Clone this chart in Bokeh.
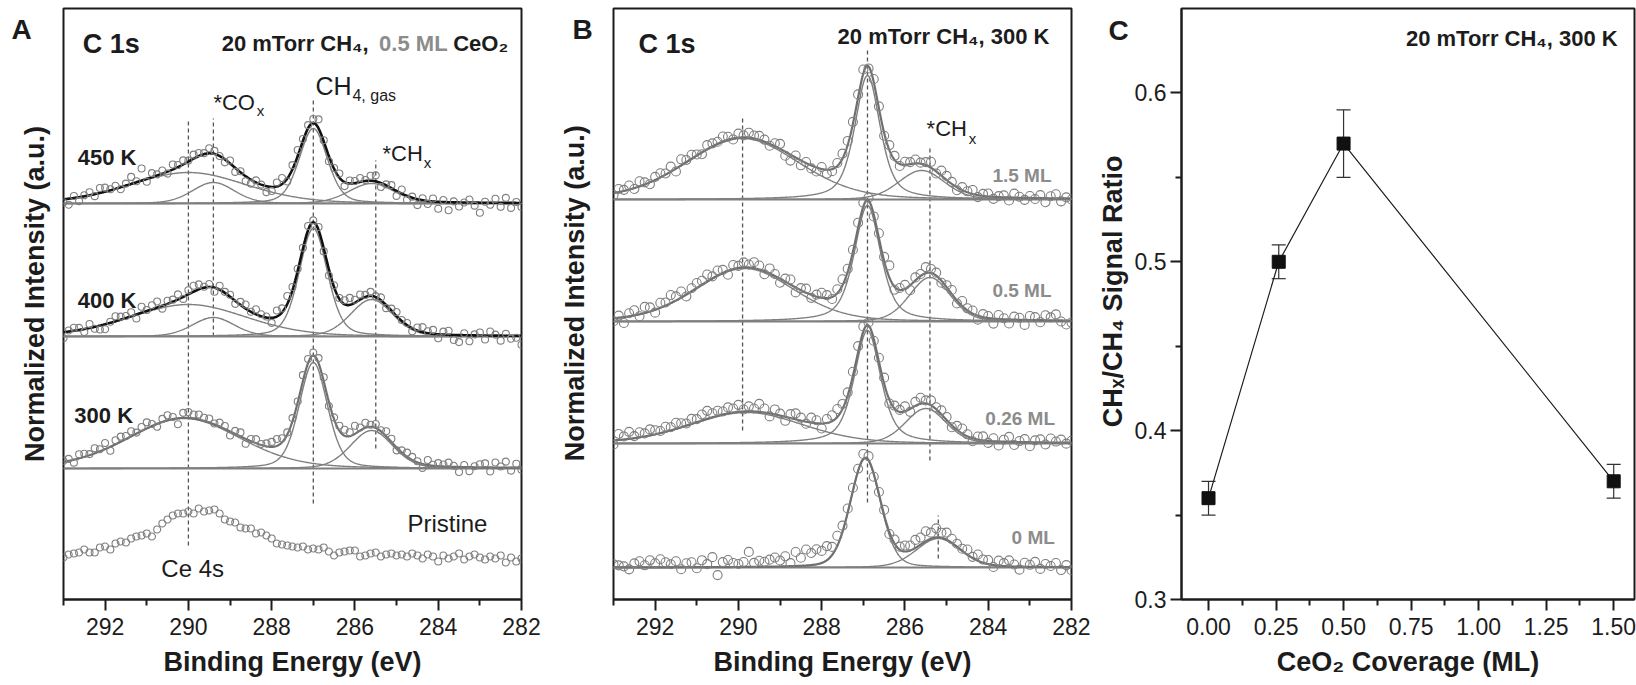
import numpy as np
from bokeh.plotting import figure
from bokeh.models import (Label, Range1d, FixedTicker, NumeralTickFormatter,
                          ColumnDataSource, Whisker, TeeHead)
from bokeh.layouts import row
from bokeh.embed import file_html
from bokeh.resources import INLINE

FONT = "Liberation Sans"
NARROW = "Liberation Sans Narrow, Liberation Sans"
INK = "#1c1c1c"
GREY = "#7f7f7f"
LABEL_GREY = "#8c8c8c"

# ---------------- DATA ----------------
# binding-energy sampling grid of the spectra (eV), 0.125 eV steps, 293 -> 282
energy = np.round(293.0 - 0.125 * np.arange(89), 3)

# Panel A: fitted components (centre eV, height, FWHM eV, lorentz fraction)
peaks_450K = [(290.0, 31, 3.3, 0.2), (289.4, 21, 1.2, 0.2), (287.0, 75, 0.8, 0.3), (285.6, 20, 1.3, 0.2)]
peaks_400K = [(290.0, 32, 3.3, 0.2), (289.4, 19, 1.2, 0.2), (287.0, 108, 0.8, 0.3), (285.6, 37, 1.2, 0.2)]
peaks_300K = [(290.1, 50, 3.2, 0.2), (287.0, 106, 0.8, 0.3), (285.6, 38, 1.2, 0.2)]
offset_A = {"450 K": 396, "400 K": 263, "300 K": 131}

# scatter of measured points around the fit
resid_450K = [
    -3, -6, 2, -4, 1, 3, -2, 5,
    4, 1, 3, -2, 2, 7, 1, 12,
    -3, 4, 1, 3, -2, 5, 2, 4,
    1, 4, 3, 1, 5, 3, 0, -3,
    3, -4, 1, -5, -4, 2, 0, -6,
    -4, 4, 6, -3, 4, 6, 2, 3,
    4, 9, 1, -5, 1, 4, -4, 3,
    2, 4, 1, 5, 6, -4, 1, 3,
    -5, 4, -4, 1, -6, 2, -3, 3,
    -7, 2, -8, 1, -4, 0, 3, -3,
    -10, 1, -2, 4, -4, 5, -5, 1,
    -4]
resid_400K = [
    -6, 1, 3, 2, -3, 4, -2, -4,
    -5, 1, 5, 3, 2, 4, -4, 6,
    1, 4, 6, -3, 3, 2, 5, -2,
    4, 6, 5, 1, 3, -4, 4, 1,
    2, -3, 3, 4, 0, 5, 2, 1,
    -5, 6, 4, 8, 3, 2, 1, 4,
    2, 3, -3, -6, 2, 1, 4, 7,
    3, 5, 2, 4, 1, 3, -3, 2,
    4, 1, 2, -3, 3, 5, 2, 4,
    -4, 3, 4, -5, -7, 2, -6, 1,
    3, -4, 4, 1, -5, 2, -3, -2,
    -9]
resid_300K = [
    1, 2, -3, 4, 3, 1, 5, 2,
    6, -4, 4, 5, 3, 5, 1, 4,
    6, 2, -3, 3, 5, 2, -6, 5,
    6, 4, 5, 3, 4, 1, 4, 3,
    -4, 3, 4, -5, 2, 4, 1, 3,
    5, 7, 4, 2, 3, 1, 6, 4,
    3, 5, 4, -4, 2, 5, 6, 4,
    8, 3, 5, 2, 4, 1, 5, 3,
    -3, 2, 4, 3, 1, -4, 5, 1,
    3, 2, 4, 1, -5, 2, -4, 1,
    3, 4, -4, 5, 1, 6, -3, 4,
    -2]
pristine = [
    42, 45, 46, 47, 50, 47, 47, 52,
    53, 50, 56, 58, 57, 61, 63, 64,
    66, 63, 70, 76, 80, 84, 86, 86,
    88, 86, 91, 88, 89, 90, 86, 80,
    78, 77, 72, 71, 71, 66, 67, 64,
    61, 56, 55, 54, 53, 52, 53, 50,
    51, 50, 52, 48, 44, 47, 48, 49,
    49, 43, 44, 46, 47, 43, 45, 46,
    44, 45, 43, 46, 44, 41, 45, 43,
    38, 44, 41, 43, 46, 40, 43, 45,
    42, 40, 43, 41, 44, 37, 42, 38,
    41]
# reference (dashed) lines of panel A: energy, lower end, upper end
refA_energy = [290.0, 289.4, 287.0, 285.5]
refA_low = [54, 263, 96, 151]
refA_high = [481, 481, 499, 439]

# Panel B
peaks_15ML = [(289.9, 61, 3.2, 0.2), (286.9, 124, 0.72, 0.55), (285.6, 29, 1.3, 0.2)]
peaks_05ML = [(289.85, 53, 2.8, 0.2), (286.9, 116, 0.75, 0.55), (285.4, 44, 1.15, 0.2)]
peaks_026ML = [(289.8, 31, 3.2, 0.2), (286.9, 113, 0.75, 0.55), (285.5, 35, 1.15, 0.2)]
peaks_0ML = [(286.95, 109, 0.85, 0.2), (285.2, 29, 1.25, 0.2)]
offset_B = {"1.5 ML": 400, "0.5 ML": 278, "0.26 ML": 156, "0 ML": 32}
resid_15ML = [
    -2, 3, 1, 4, -1, 5, 2, -2,
    3, 4, 1, 5, -3, 6, 2, 4,
    1, -2, 4, 3, 2, 5, 3, -1,
    4, 2, 5, 3, 4, 2, -2, 3,
    5, -4, -6, 2, -5, 1, -3, -4,
    2, -4, -2, 3, 5, 4, 2, 3,
    4, -2, 3, 2, -3, 5, 4, -2,
    3, 2, 4, 1, 3, 6, -2, 5,
    4, 2, -3, 3, 1, 4, -2, 2,
    3, -2, 1, 2, -3, 4, 1, -2,
    2, -1, 3, -4, 2, 4, -3, 1,
    -1]
resid_05ML = [
    -3, 2, -6, 3, 5, -2, 6, 4,
    -3, 5, 3, 8, 4, 6, -2, 3,
    5, 4, 7, 2, 5, 3, -4, 4,
    2, 5, 3, 6, 4, -3, 5, 2,
    -4, 3, 5, -5, 2, 4, -3, 2,
    5, 3, -2, 4, 6, 3, 2, 5,
    4, 3, -2, 5, 4, 12, -3, 2,
    4, -5, 3, 2, 6, 4, 3, -2,
    2, 4, -3, 5, 2, 3, -4, 3,
    2, -5, 4, 1, -4, 3, 2, -5,
    4, 3, -2, 5, 3, 6, -1, -4,
    -2]
resid_026ML = [
    -4, 6, 3, 7, 2, 5, 3, 6,
    4, 2, 5, 3, 6, 4, 2, 5,
    3, 6, 8, 4, 5, 3, 6, 4,
    7, 2, 5, 3, 8, 4, -3, 5,
    2, -4, 4, 6, 3, -2, 5, 3,
    -5, 4, 6, 8, 5, 3, 4, 6,
    5, 3, -2, 4, 6, -4, 3, 2,
    5, -3, 4, 6, 3, 5, 2, 4,
    3, -2, 4, 5, 2, -3, 3, 4,
    -2, 3, -4, 2, 5, -3, 1, 3,
    -4, 2, 3, -2, 4, 1, 3, -1,
    2]
resid_0ML = [
    3, 2, 1, -2, 4, 6, 2, 7,
    4, 8, 5, 3, 6, -2, 4, 5,
    -1, 7, 3, 10, -8, 5, 7, 4,
    3, 5, 15, 4, 6, 5, 7, 9,
    6, 10, 3, 14, 8, 16, 12, 15,
    12, 14, 8, 10, 6, 4, 3, 2,
    5, 4, -3, 2, 5, -2, 4, 3,
    6, 5, 8, 7, 10, 6, 9, 5,
    7, 4, 3, 2, 5, 1, 6, 3,
    4, -2, 5, 3, 6, 2, -3, 4,
    2, 5, -2, 3, 1, 4, -3, 2,
    -3]
refB_energy = [289.9, 286.9, 285.4, 285.2]
refB_low = [169, 97, 139, 41]
refB_high = [482, 549, 454, 84]

# Panel C
coverage = [0.0, 0.26, 0.5, 1.5]
ratio = [0.36, 0.50, 0.57, 0.37]
ratio_err = [0.01, 0.01, 0.02, 0.01]

energy_ticks = [292, 290, 288, 286, 284, 282]
energy_minor = [293, 291, 289, 287, 285, 283]
cov_ticks = [0.0, 0.25, 0.5, 0.75, 1.0, 1.25, 1.5]
cov_minor = [0.125, 0.375, 0.625, 0.875, 1.125, 1.375]
ratio_ticks = [0.3, 0.4, 0.5, 0.6]
ratio_minor = [0.35, 0.45, 0.55]


# ---------------- helpers ----------------
def pvoigt(x, c, h, w, eta):
    d = (np.asarray(x) - c) / w
    g = np.exp(-4 * np.log(2) * d ** 2)
    lo = 1.0 / (1.0 + 4 * d ** 2)
    return h * ((1 - eta) * g + eta * lo)


fine = np.linspace(293.0, 282.0, 661)


def make_fig(width, bl, br, xr, yr):
    p = figure(width=width, height=685, x_range=xr, y_range=yr, title=None,
               output_backend="svg", toolbar_location=None,
               min_border_left=bl, min_border_right=br,
               min_border_top=8, min_border_bottom=86)
    p.grid.visible = False
    p.outline_line_color = INK
    p.outline_line_width = 2
    p.outline_line_alpha = 1
    p.background_fill_color = "white"
    p.border_fill_color = "white"
    return p


def side_fig(width):
    # narrow strip holding the panel letter and the rotated axis title
    p = figure(width=width, height=685, x_range=Range1d(0, width), y_range=Range1d(0, 685),
               title=None, output_backend="svg", toolbar_location=None, min_border=0)
    p.axis.visible = False
    p.grid.visible = False
    p.outline_line_color = None
    p.background_fill_color = "white"
    p.border_fill_color = "white"
    return p


def style_axis(ax, ticks, minor, label=None):
    ax.ticker = FixedTicker(ticks=ticks, minor_ticks=minor)
    ax.axis_label = label
    ax.axis_label_text_font = FONT
    ax.axis_label_text_font_size = "27px"
    ax.axis_label_text_font_style = "bold"
    ax.axis_label_text_color = INK
    ax.axis_label_standoff = 9
    ax.major_label_text_font = FONT
    ax.major_label_text_font_size = "23px"
    ax.major_label_text_color = INK
    ax.major_label_standoff = 7
    ax.major_tick_out = 11
    ax.major_tick_in = 0
    ax.minor_tick_out = 6
    ax.minor_tick_in = 0
    ax.major_tick_line_width = 2
    ax.minor_tick_line_width = 2
    ax.major_tick_line_color = INK
    ax.minor_tick_line_color = INK
    ax.axis_line_width = 2
    ax.axis_line_color = INK


def label(p, x, y, text, size, bold=False, color=INK, align="left",
          baseline="middle", angle=0.0, font=FONT):
    p.add_layout(Label(x=x, y=y, text=text, text_font=font,
                       text_font_size=f"{size}px",
                       text_font_style="bold" if bold else "normal",
                       text_color=color, text_align=align,
                       text_baseline=baseline, angle=angle))


def spectrum(p, offset, peaks, resid, sum_color, sum_width, pt_size):
    p.line([energy[0], energy[-1]], [offset, offset], line_color=GREY, line_width=2)
    total = np.zeros_like(fine)
    at_pts = np.zeros(len(energy))
    for c, h, w, eta in peaks:
        comp = pvoigt(fine, c, h, w, eta)
        total += comp
        at_pts += pvoigt(energy, c, h, w, eta)
        p.line(fine, offset + comp, line_color=GREY, line_width=1.4)
    p.line(fine, offset + total, line_color=sum_color, line_width=sum_width)
    n = min(len(energy), len(resid))
    p.scatter(energy[:n], offset + at_pts[:n] + np.array(resid[:n], dtype=float),
              marker="circle", size=pt_size, fill_color=None,
              line_color=GREY, line_width=1.1)


# ---------------- Panel A ----------------
sA = side_fig(61)
label(sA, 21, 661, "A", 28, bold=True, align="center", font=NARROW)
label(sA, 34, 354, "Normalized Intensity (a.u.)", 27, bold=True,
      align="center", angle=np.pi / 2)

pA = make_fig(484, 2, 24, Range1d(293, 282), Range1d(0, 591))
style_axis(pA.xaxis[0], energy_ticks, energy_minor, "Binding Energy (eV)")
pA.yaxis.visible = False

pA.segment(x0=refA_energy, y0=refA_low, x1=refA_energy, y1=refA_high,
           line_color="#555555", line_width=1.3, line_dash="4 3")
spectrum(pA, offset_A["450 K"], peaks_450K, resid_450K, "#111111", 2.6, 7)
spectrum(pA, offset_A["400 K"], peaks_400K, resid_400K, "#111111", 2.6, 7)
spectrum(pA, offset_A["300 K"], peaks_300K, resid_300K, "#6f6f6f", 2.2, 7)
pA.scatter(energy[:len(pristine)], pristine[:len(energy)], marker="circle", size=7,
           fill_color=None, line_color=GREY, line_width=1.1)

label(pA, 292.54, 556, "C 1s", 27, bold=True)
label(pA, 289.20, 556, "20 mTorr CH\u2084,", 22, bold=True)
label(pA, 285.42, 556, "0.5 ML", 22, bold=True, color=LABEL_GREY)
label(pA, 283.64, 556, "CeO\u2082", 22, bold=True)
label(pA, 289.40, 497, "*CO", 22)
label(pA, 288.36, 489, "x", 15)
label(pA, 286.95, 514, "CH", 25)
label(pA, 286.06, 504, "4, gas", 16)
label(pA, 285.34, 446, "*CH", 22)
label(pA, 284.35, 437, "x", 15)
label(pA, 292.66, 442, "450 K", 22, bold=True)
label(pA, 292.66, 299, "400 K", 22, bold=True)
label(pA, 292.74, 184, "300 K", 22, bold=True)
label(pA, 284.74, 76, "Pristine", 24)
label(pA, 290.65, 31, "Ce 4s", 24)

# ---------------- Panel B ----------------
sB = side_fig(66)
label(sB, 37, 661, "B", 28, bold=True, align="center", font=NARROW)
label(sB, 29, 355, "Normalized Intensity (a.u.)", 27, bold=True,
      align="center", angle=np.pi / 2)

pB = make_fig(479, 2, 19, Range1d(293, 282), Range1d(0, 591))
style_axis(pB.xaxis[0], energy_ticks, energy_minor, "Binding Energy (eV)")
pB.yaxis.visible = False

pB.segment(x0=refB_energy, y0=refB_low, x1=refB_energy, y1=refB_high,
           line_color="#555555", line_width=1.3, line_dash="4 3")
spectrum(pB, offset_B["1.5 ML"], peaks_15ML, resid_15ML, "#6f6f6f", 2.2, 9)
spectrum(pB, offset_B["0.5 ML"], peaks_05ML, resid_05ML, "#6f6f6f", 2.2, 9)
spectrum(pB, offset_B["0.26 ML"], peaks_026ML, resid_026ML, "#6f6f6f", 2.2, 9)
spectrum(pB, offset_B["0 ML"], peaks_0ML, resid_0ML, "#6f6f6f", 2.2, 9)

label(pB, 292.40, 556, "C 1s", 27, bold=True)
label(pB, 282.53, 563, "20 mTorr CH\u2084, 300 K", 22, bold=True, align="right")
label(pB, 285.48, 471, "*CH", 22)
label(pB, 284.47, 461, "x", 15)
label(pB, 283.90, 424, "1.5 ML", 19, bold=True, color=LABEL_GREY)
label(pB, 283.90, 309, "0.5 ML", 19, bold=True, color=LABEL_GREY)
label(pB, 284.07, 181, "0.26 ML", 19, bold=True, color=LABEL_GREY)
label(pB, 283.44, 62, "0 ML", 19, bold=True, color=LABEL_GREY)

# ---------------- Panel C ----------------
sC = side_fig(41)
label(sC, 28, 660, "C", 28, bold=True, align="center", font=NARROW)
label(sC, 22, 357, "CH\u2093/CH\u2084 Signal Ratio", 27, bold=True,
      align="center", angle=np.pi / 2)

pC = make_fig(505, 47, 2, Range1d(-0.1, 1.577), Range1d(0.3, 0.65))
style_axis(pC.xaxis[0], cov_ticks, cov_minor, "CeO\u2082 Coverage (ML)")
pC.xaxis[0].formatter = NumeralTickFormatter(format="0.00")
style_axis(pC.yaxis[0], ratio_ticks, ratio_minor, None)
pC.yaxis[0].major_label_standoff = 4
pC.yaxis[0].formatter = NumeralTickFormatter(format="0.0")

src = ColumnDataSource(dict(
    x=coverage, y=ratio,
    upper=[r + e for r, e in zip(ratio, ratio_err)],
    lower=[r - e for r, e in zip(ratio, ratio_err)]))
pC.line("x", "y", source=src, line_color=INK, line_width=1.2)
pC.add_layout(Whisker(source=src, base="x", upper="upper", lower="lower",
                      line_color="#333333", line_width=1.2,
                      upper_head=TeeHead(size=14, line_color="#333333", line_width=1.2),
                      lower_head=TeeHead(size=14, line_color="#333333", line_width=1.2)))
pC.scatter("x", "y", source=src, marker="square", size=13,
           fill_color="#111111", line_color="#111111")

label(pC, 1.515, 0.6325, "20 mTorr CH\u2084, 300 K", 22, bold=True, align="right")

layout = row(sA, pA, sB, pB, sC, pC)
open("out.html", "w").write(file_html(layout, INLINE))
